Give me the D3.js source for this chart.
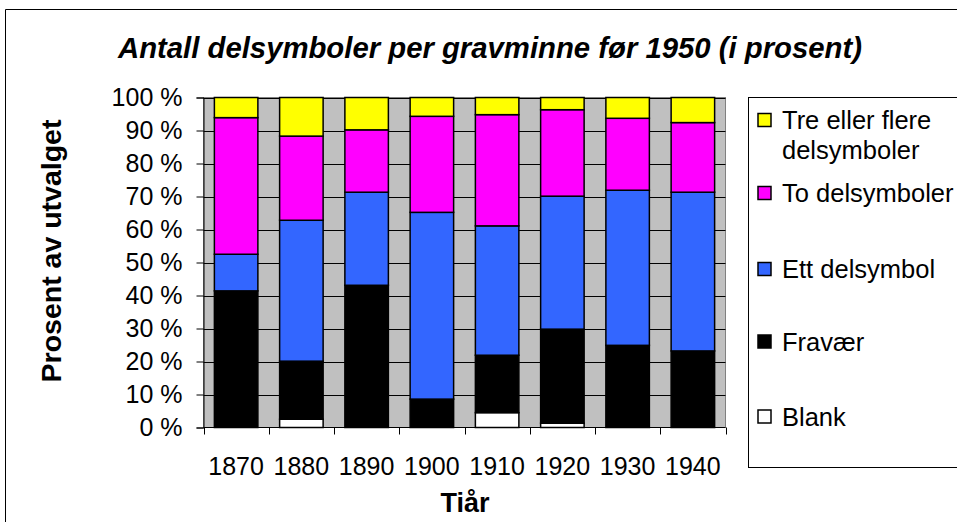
<!DOCTYPE html>
<html>
<head>
<meta charset="utf-8">
<script src="https://cdn.jsdelivr.net/npm/d3@7"></script>
<style>
  html, body { margin: 0; padding: 0; background: #fff; }
  svg { display: block; }
  text { font-family: "Liberation Sans", Arial, sans-serif; fill: #000; }
</style>
</head>
<body>
<svg id="chart" width="957" height="522"></svg>
<script>
// ---- data ----
const categories = ["1870", "1880", "1890", "1900", "1910", "1920", "1930", "1940"];
const seriesNames = ["Blank", "Fravær", "Ett delsymbol", "To delsymboler", "Tre eller flere delsymboler"];
const blank   = [0.0, 2.5, 0.0, 0.0, 4.5, 1.3, 0.0, 0.0];
const fravaer = [41.4, 17.6, 43.1, 8.6, 17.4, 28.5, 24.9, 23.2];
const ett     = [11.1, 42.7, 28.2, 56.6, 39.2, 40.3, 47.0, 48.1];
const to      = [41.4, 25.5, 18.9, 29.1, 33.7, 26.2, 21.8, 21.1];
const tre     = [6.1, 11.7, 9.8, 5.7, 5.2, 3.7, 6.3, 7.6];
const yTicks  = [0, 10, 20, 30, 40, 50, 60, 70, 80, 90, 100];
const legendLabels = [["Tre eller flere", "delsymboler"], ["To delsymboler"], ["Ett delsymbol"], ["Fravær"], ["Blank"]];
const colors = ["#FFFFFF", "#000000", "#3366FF", "#FF00FF", "#FFFF00"];

const svg = d3.select("#chart");

// outer frame
svg.append("path").attr("d", "M5.5,522 L5.5,9.5 L957,9.5")
  .attr("fill", "none").attr("stroke", "#000").attr("stroke-width", 1);

// plot geometry
const plot = { left: 203.5, right: 725.5, top: 97.5, bottom: 427.5 };

const x = d3.scaleBand().domain(categories)
  .range([plot.left, plot.right]).paddingInner(1/3).paddingOuter(1/6);
const y = d3.scaleLinear().domain([0, 100]).range([plot.bottom, plot.top]);

// plot background
svg.append("rect")
  .attr("x", plot.left).attr("y", plot.top)
  .attr("width", plot.right - plot.left).attr("height", plot.bottom - plot.top)
  .attr("fill", "#C0C0C0").attr("stroke", "#808080").attr("stroke-width", 1);

// gridlines
svg.append("g").selectAll("line").data(yTicks.filter(d => d > 0)).join("line")
  .attr("x1", plot.left).attr("x2", plot.right)
  .attr("y1", d => Math.round(y(d)) + 0.5).attr("y2", d => Math.round(y(d)) + 0.5)
  .attr("stroke", "#000").attr("stroke-width", 1);

// stacked data
const rows = categories.map((c, i) => ({
  cat: c, s0: blank[i], s1: fravaer[i], s2: ett[i], s3: to[i], s4: tre[i]
}));
const stack = d3.stack().keys(["s0", "s1", "s2", "s3", "s4"]);
const stacked = stack(rows);

svg.append("g").selectAll("g").data(stacked).join("g")
  .attr("fill", (d, i) => colors[i])
  .selectAll("rect").data(d => d.filter(p => p[1] - p[0] > 0)).join("rect")
  .attr("x", d => x(d.data.cat))
  .attr("width", x.bandwidth())
  .attr("y", d => y(d[1]))
  .attr("height", d => y(d[0]) - y(d[1]))
  .attr("stroke", "#000").attr("stroke-width", 1.5);

// y axis
const yAxis = d3.axisLeft(y).tickValues(yTicks).tickSize(7).tickPadding(14)
  .tickFormat(d => d + " %");
const gy = svg.append("g").attr("transform", `translate(${plot.left},0)`).call(yAxis);
gy.select(".domain").attr("stroke", "#000");
gy.selectAll(".tick line").attr("stroke", "#000");
gy.selectAll(".tick text").attr("font-size", 25).attr("font-family", "Liberation Sans, Arial, sans-serif").attr("fill", "#000");

// x axis: ticks at category boundaries
const boundaries = categories.map(c => x(c) - (x.step() - x.bandwidth()) / 2).concat([plot.right]);
svg.append("line").attr("x1", plot.left).attr("x2", plot.right)
  .attr("y1", plot.bottom).attr("y2", plot.bottom).attr("stroke", "#000");
svg.append("g").selectAll("line").data(boundaries).join("line")
  .attr("x1", d => Math.round(d) + 0.5).attr("x2", d => Math.round(d) + 0.5)
  .attr("y1", plot.bottom).attr("y2", plot.bottom + 7).attr("stroke", "#000");
svg.append("g").selectAll("text").data(categories).join("text")
  .attr("x", d => x(d) + x.bandwidth() / 2)
  .attr("y", 475)
  .attr("text-anchor", "middle")
  .attr("font-size", 25)
  .text(d => d);

// axis titles
svg.append("text").attr("x", 465).attr("y", 512)
  .attr("text-anchor", "middle").attr("font-size", 27).attr("font-weight", "bold").text("Tiår");
svg.append("text").attr("transform", "translate(61,251) rotate(-90)")
  .attr("text-anchor", "middle").attr("font-size", 28.5).attr("font-weight", "bold").text("Prosent av utvalget");

// title
svg.append("text").attr("x", 490).attr("y", 58)
  .attr("text-anchor", "middle").attr("font-size", 29.3)
  .attr("font-weight", "bold").attr("font-style", "italic")
  .text("Antall delsymboler per gravminne før 1950 (i prosent)");

// legend
svg.append("rect").attr("x", 748.5).attr("y", 97.5).attr("width", 220).attr("height", 370)
  .attr("fill", "#fff").attr("stroke", "#000").attr("stroke-width", 1);
const legendY = [120, 193, 269, 341.5, 416.5];
const legendColors = [colors[4], colors[3], colors[2], colors[1], colors[0]];
const lg = svg.append("g").selectAll("g").data(legendLabels).join("g")
  .attr("transform", (d, i) => `translate(0,${legendY[i]})`);
lg.append("rect").attr("x", 758).attr("y", -6.5).attr("width", 13).attr("height", 13)
  .attr("fill", (d, i) => legendColors[i]).attr("stroke", "#000").attr("stroke-width", 1.5);
lg.append("text").attr("x", 782).attr("font-size", 25.5)
  .selectAll("tspan").data(d => d).join("tspan")
  .attr("x", 782).attr("y", (d, j) => 9 + j * 30)
  .text(d => d);
</script>
</body>
</html>
